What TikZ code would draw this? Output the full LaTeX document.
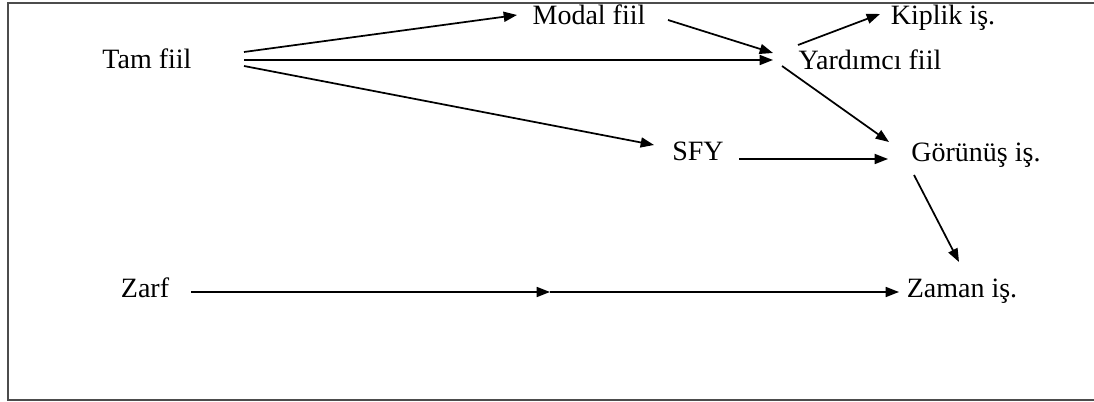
\documentclass[tikz,border=0pt]{standalone}
\usepackage{fontspec}
\setmainfont{Liberation Serif}
\usetikzlibrary{arrows.meta}

\begin{document}
\begin{tikzpicture}[x=0.75pt,y=0.75pt,yscale=-1,xscale=1,
  word/.style={anchor=base,inner sep=0pt,font=\fontsize{21}{24}\selectfont},
  arr/.style={line width=1.3pt,-{Triangle[length=10pt,width=7.5pt]}},
  frame/.style={line width=1.2pt,color=black!70}]
\useasboundingbox (0,0) rectangle (1094,402);

%Frame
\draw [frame] (1094,3) -- (8,3) -- (8,400) -- (1094,400) ;

% Text Node
\node [word] (tam) at (147,69) {Tam fiil};
% Text Node
\node [word] (modal) at (589,25) {Modal fiil};
% Text Node
\node [word] (kiplik) at (943,25) {Kiplik iş.};
% Text Node
\node [word] (yard) at (870,70) {Yardımcı fiil};
% Text Node
\node [word] (sfy) at (698,161) {SFY};
% Text Node
\node [word] (gor) at (976,162) {Görünüş iş.};
% Text Node
\node [word] (zarf) at (145,297) {Zarf};
% Text Node
\node [word] (zaman) at (962,297) {Zaman iş.};
\coordinate (zmid) at (550,292);

%Straight Lines
\draw [arr] ([shift={(97,-17)}]tam.base) -- ([shift={(-72,-10)}]modal.base) ;
\draw [arr] ([shift={(97,-9)}]tam.base) -- ([shift={(-97,-10)}]yard.base) ;
\draw [arr] ([shift={(97,-3)}]tam.base) -- ([shift={(-44,-16)}]sfy.base) ;
\draw [arr] ([shift={(79,-5)}]modal.base) -- ([shift={(-97,-17)}]yard.base) ;
\draw [arr] ([shift={(-72,-25)}]yard.base) -- ([shift={(-63,-11)}]kiplik.base) ;
\draw [arr] ([shift={(-88,-4)}]yard.base) -- ([shift={(-87,-20)}]gor.base) ;
\draw [arr] ([shift={(41,-2)}]sfy.base) -- ([shift={(-88,-3)}]gor.base) ;
\draw [arr] ([shift={(-62,13)}]gor.base) -- ([shift={(-3,-35)}]zaman.base) ;
\draw [arr] ([shift={(46,-5)}]zarf.base) -- (zmid) ;
\draw [arr] (zmid) -- ([shift={(-63,-5)}]zaman.base) ;

\end{tikzpicture}
\end{document}
